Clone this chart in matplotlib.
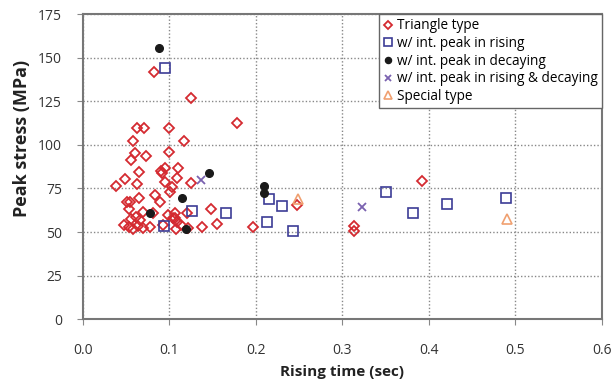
import numpy as np
import matplotlib.pyplot as plt

plt.rcParams['font.family'] = ['Open Sans', 'DejaVu Sans']

# Triangle type (red diamonds)
tri_x = [0.082, 0.125, 0.178, 0.062, 0.071, 0.100, 0.058, 0.117, 0.060, 0.073,
         0.100, 0.056, 0.065, 0.090, 0.095, 0.110, 0.038, 0.049, 0.063, 0.095,
         0.109, 0.103, 0.101, 0.125, 0.051, 0.055, 0.065, 0.083, 0.089, 0.053,
         0.070, 0.081, 0.099, 0.106, 0.107, 0.109, 0.120, 0.148, 0.155, 0.138,
         0.197, 0.047, 0.053, 0.058, 0.064, 0.070, 0.078, 0.093, 0.108, 0.114,
         0.122, 0.056, 0.061, 0.066, 0.248, 0.392, 0.313, 0.314, 0.092, 0.104]
tri_y = [142, 127, 112.6, 110, 110, 110, 102.5, 102, 95.2, 93.7,
         95.8, 91.4, 84.7, 85.2, 86.6, 86.6, 76.6, 80.3, 77.6, 78.9,
         80.9, 75.7, 73.2, 78.3, 67.4, 67.1, 69.7, 71.3, 67.0, 63.0,
         61.7, 60.7, 59.8, 61.0, 58.0, 56.0, 60.7, 63.2, 54.4, 53.0,
         52.7, 54.0, 53.0, 52.0, 53.5, 52.5, 53.0, 54.0, 51.5, 54.0,
         52.5, 57.3, 58.8, 56.9, 65.5, 79.5, 53.6, 50.4, 84.0, 58.0]

# w/ int. peak in rising (blue squares)
rise_x = [0.095, 0.094, 0.126, 0.165, 0.215, 0.213, 0.230, 0.243, 0.350, 0.382, 0.421, 0.489]
rise_y = [144.4, 53.4, 62.3, 61.1, 68.8, 55.6, 65.1, 50.7, 73.2, 61.1, 65.9, 69.7]

# w/ int. peak in decaying (black dots)
dec_x = [0.088, 0.146, 0.115, 0.078, 0.119, 0.209, 0.209]
dec_y = [155.6, 84.1, 69.7, 61.1, 51.5, 76.6, 72.6]

# w/ int. peak in rising & decaying (purple x)
both_x = [0.137, 0.323]
both_y = [79.9, 64.5]

# Special type (orange triangles)
spec_x = [0.249, 0.490]
spec_y = [69.0, 57.5]

fig = plt.figure(figsize=(6.14, 3.85), dpi=100)
ax = fig.add_axes([0.135, 0.171, 0.845, 0.792])

ax.plot(tri_x, tri_y, 'D', ms=5.3, mfc='none', mec='#d42a30', mew=1.3, label='Triangle type')
ax.plot(rise_x, rise_y, 's', ms=6.5, mfc='none', mec='#3c3c96', mew=1.2, label='w/ int. peak in rising')
ax.plot(dec_x, dec_y, 'o', ms=5.5, color='#1a1a1a', label='w/ int. peak in decaying')
ax.plot(both_x, both_y, 'x', ms=6, mew=1.3, color='#7a62b0', label='w/ int. peak in rising & decaying')
ax.plot(spec_x, spec_y, '^', ms=6.5, mfc='none', mec='#f0a070', mew=1.2, label='Special type')

ax.set_xlim(0, 0.6)
ax.set_ylim(0, 175)
ax.set_xticks(np.arange(0, 0.61, 0.1))
ax.set_yticks(np.arange(0, 176, 25))
ax.set_xticklabels(['0.0', '0.1', '0.2', '0.3', '0.4', '0.5', '0.6'])
ax.grid(True, linestyle=(0, (1, 1.5)), color='#888888', linewidth=1)
ax.tick_params(direction='out', length=4, color='#888888', labelsize=10, labelcolor='#333333')
ax.tick_params(axis='x', pad=13)
ax.tick_params(axis='y', pad=11)
for s in ax.spines.values():
    s.set_color('#777777')
    s.set_linewidth(1.5)

ax.set_xlabel('Rising time (sec)', fontsize=11, fontweight='bold', color='#222222', labelpad=5)
ax.set_ylabel('Peak stress (MPa)', fontsize=13, fontweight='bold', color='#222222', labelpad=3)
ax.yaxis.set_label_coords(-0.1, 0.594)

leg = ax.legend(loc='upper right', fontsize=9.8, handlelength=0.7, handletextpad=0.3,
                borderaxespad=0, labelspacing=0.2, fancybox=False, framealpha=1,
                edgecolor='#666666', borderpad=0.3, markerscale=0.8)

fig.savefig('out.png', dpi=100)
